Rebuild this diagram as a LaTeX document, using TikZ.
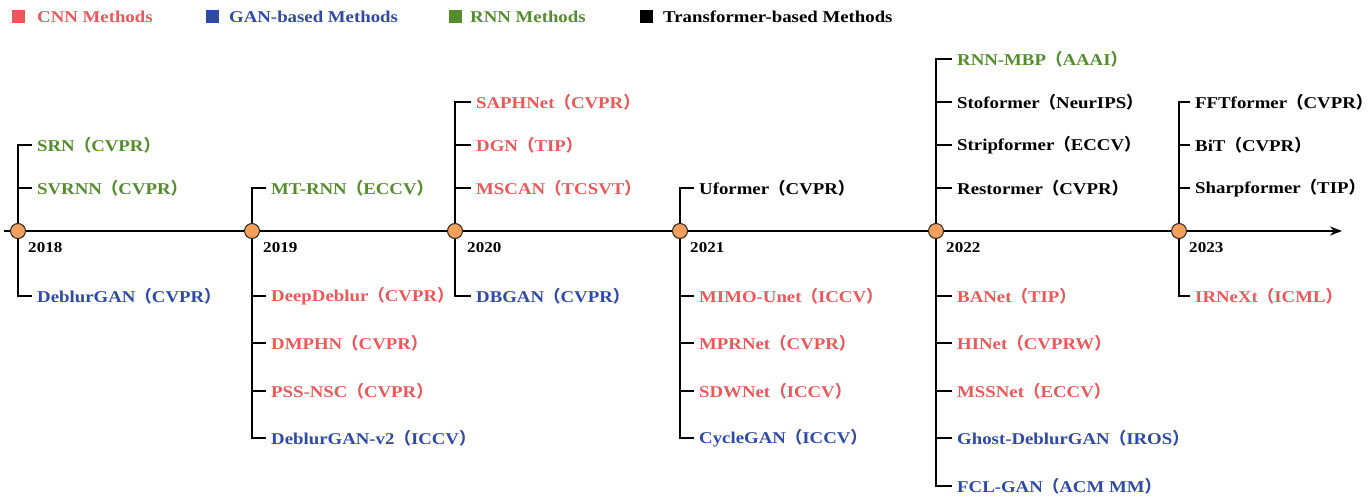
\documentclass[tikz,border=0pt]{standalone}
\usepackage{fontspec}
\setmainfont{Liberation Serif}[FakeStretch=1.14]
\newfontfamily\cjk{Noto Sans CJK SC}
\usetikzlibrary{positioning,arrows.meta}

\definecolor{cnnred}{RGB}{234,88,90}
\definecolor{ganblue}{RGB}{46,74,163}
\definecolor{rnngreen}{RGB}{84,140,46}
\definecolor{dotorange}{RGB}{243,160,92}

% venue in full-width brackets
\newcommand{\venue}[1]{{\cjk （}#1{\cjk ）}}

\tikzset{
  item/.style={anchor=west, inner xsep=5pt, inner ysep=1pt, font=\bfseries\fontsize{16.5}{18}\selectfont},
  cnn/.style={item, text=cnnred},
  gan/.style={item, text=ganblue},
  rnn/.style={item, text=rnngreen},
  trans/.style={item, text=black},
  branch/.style={line width=1.3pt},
  yeardot/.style={circle, draw=black!85, line width=1pt, fill=dotorange, minimum size=15pt, inner sep=0pt},
  yearlabel/.style={anchor=west, inner sep=0pt, font=\bfseries\fontsize{15}{17}\selectfont},
  legendbox/.style={minimum size=13pt, inner sep=0pt},
  legendtext/.style={anchor=west, inner sep=2pt, font=\bfseries\fontsize{16.5}{19}\selectfont}
}

\begin{document}
\begin{tikzpicture}[x=1pt,y=-1pt]
      \useasboundingbox (0,0) rectangle (1370,497);

      % legend
      \node[legendbox, fill=cnnred] (kcnn) at (18,17) {};
      \node[legendtext, text=cnnred] (tcnn) at (35,17) {CNN Methods};
      \node[legendbox, fill=ganblue] (kgan) at (212,17) {};
      \node[legendtext, text=ganblue] (tgan) at (227,17) {GAN-based Methods};
      \node[legendbox, fill=rnngreen] (krnn) at (455,17) {};
      \node[legendtext, text=rnngreen] (trnn) at (468,17) {RNN Methods};
      \node[legendbox, fill=black] (ktrans) at (646,17) {};
      \node[legendtext] (ttrans) at (661,17) {Transformer-based Methods};

      % years on the time axis
      \coordinate (c2018) at (18,231);
      \coordinate (c2019) at (252,231);
      \coordinate (c2020) at (455,231);
      \coordinate (c2021) at (680,231);
      \coordinate (c2022) at (936,231);
      \coordinate (c2023) at (1179,231);
      \coordinate (start) at (4,231);
      \coordinate (end) at (1342,231);

      % 2018
      \node[rnn] (srn) at (32,145) {SRN\venue{CVPR}};
      \node[rnn] (svrnn) at (32,188) {SVRNN\venue{CVPR}};
      \node[gan] (deblurgan) at (32,296) {DeblurGAN\venue{CVPR}};
      % 2019
      \node[rnn] (mtrnn) at (266,188) {MT-RNN\venue{ECCV}};
      \node[cnn] (deepdeblur) at (266,296) {DeepDeblur\venue{CVPR}};
      \node[cnn] (dmphn) at (266,343) {DMPHN\venue{CVPR}};
      \node[cnn] (pssnsc) at (266,391) {PSS-NSC\venue{CVPR}};
      \node[gan] (deblurganv2) at (266,438) {DeblurGAN-v2\venue{ICCV}};
      % 2020
      \node[cnn] (saphnet) at (471,102) {SAPHNet\venue{CVPR}};
      \node[cnn] (dgn) at (471,145) {DGN\venue{TIP}};
      \node[cnn] (mscan) at (471,188) {MSCAN\venue{TCSVT}};
      \node[gan] (dbgan) at (471,296) {DBGAN\venue{CVPR}};
      % 2021
      \node[trans] (uformer) at (694,188) {Uformer\venue{CVPR}};
      \node[cnn] (mimounet) at (694,296) {MIMO-Unet\venue{ICCV}};
      \node[cnn] (mprnet) at (694,343) {MPRNet\venue{CVPR}};
      \node[cnn] (sdwnet) at (694,391) {SDWNet\venue{ICCV}};
      \node[gan] (cyclegan) at (694,438) {CycleGAN\venue{ICCV}};
      % 2022
      \node[rnn] (rnnmbp) at (952,59) {RNN-MBP\venue{AAAI}};
      \node[trans] (stoformer) at (952,102) {Stoformer\venue{NeurIPS}};
      \node[trans] (stripformer) at (952,145) {Stripformer\venue{ECCV}};
      \node[trans] (restormer) at (952,188) {Restormer\venue{CVPR}};
      \node[cnn] (banet) at (952,296) {BANet\venue{TIP}};
      \node[cnn] (hinet) at (952,343) {HINet\venue{CVPRW}};
      \node[cnn] (mssnet) at (952,391) {MSSNet\venue{ECCV}};
      \node[gan] (ghost) at (952,438) {Ghost-DeblurGAN\venue{IROS}};
      \node[gan] (fclgan) at (952,486) {FCL-GAN\venue{ACM MM}};
      % 2023
      \node[trans] (fftformer) at (1190,102) {FFTformer\venue{CVPR}};
      \node[trans] (bit) at (1190,145) {BiT\venue{CVPR}};
      \node[trans] (sharpformer) at (1190,188) {Sharpformer\venue{TIP}};
      \node[cnn] (irnext) at (1190,296) {IRNeXt\venue{ICML}};

      % branches
      \draw[branch] (c2018) |- (srn.west);
      \draw[branch] (c2018) |- (svrnn.west);
      \draw[branch] (c2018) |- (deblurgan.west);
      \draw[branch] (c2019) |- (mtrnn.west);
      \draw[branch] (c2019) |- (deepdeblur.west);
      \draw[branch] (c2019) |- (dmphn.west);
      \draw[branch] (c2019) |- (pssnsc.west);
      \draw[branch] (c2019) |- (deblurganv2.west);
      \draw[branch] (c2020) |- (saphnet.west);
      \draw[branch] (c2020) |- (dgn.west);
      \draw[branch] (c2020) |- (mscan.west);
      \draw[branch] (c2020) |- (dbgan.west);
      \draw[branch] (c2021) |- (uformer.west);
      \draw[branch] (c2021) |- (mimounet.west);
      \draw[branch] (c2021) |- (mprnet.west);
      \draw[branch] (c2021) |- (sdwnet.west);
      \draw[branch] (c2021) |- (cyclegan.west);
      \draw[branch] (c2022) |- (rnnmbp.west);
      \draw[branch] (c2022) |- (stoformer.west);
      \draw[branch] (c2022) |- (stripformer.west);
      \draw[branch] (c2022) |- (restormer.west);
      \draw[branch] (c2022) |- (banet.west);
      \draw[branch] (c2022) |- (hinet.west);
      \draw[branch] (c2022) |- (mssnet.west);
      \draw[branch] (c2022) |- (ghost.west);
      \draw[branch] (c2022) |- (fclgan.west);
      \draw[branch] (c2023) |- (fftformer.west);
      \draw[branch] (c2023) |- (bit.west);
      \draw[branch] (c2023) |- (sharpformer.west);
      \draw[branch] (c2023) |- (irnext.west);

      % time axis
      \draw[line width=2pt, -{Stealth[length=12pt,width=9pt]}] (start) -- (end);

      \node[yeardot] (d2018) at (c2018) {};
      \node[yeardot] (d2019) at (c2019) {};
      \node[yeardot] (d2020) at (c2020) {};
      \node[yeardot] (d2021) at (c2021) {};
      \node[yeardot] (d2022) at (c2022) {};
      \node[yeardot] (d2023) at (c2023) {};

      \node[yearlabel] (l2018) at (28,248) {2018};
      \node[yearlabel] (l2019) at (263,248) {2019};
      \node[yearlabel] (l2020) at (467,248) {2020};
      \node[yearlabel] (l2021) at (690,248) {2021};
      \node[yearlabel] (l2022) at (946,248) {2022};
      \node[yearlabel] (l2023) at (1189,248) {2023};
    \end{tikzpicture}
\end{document}
